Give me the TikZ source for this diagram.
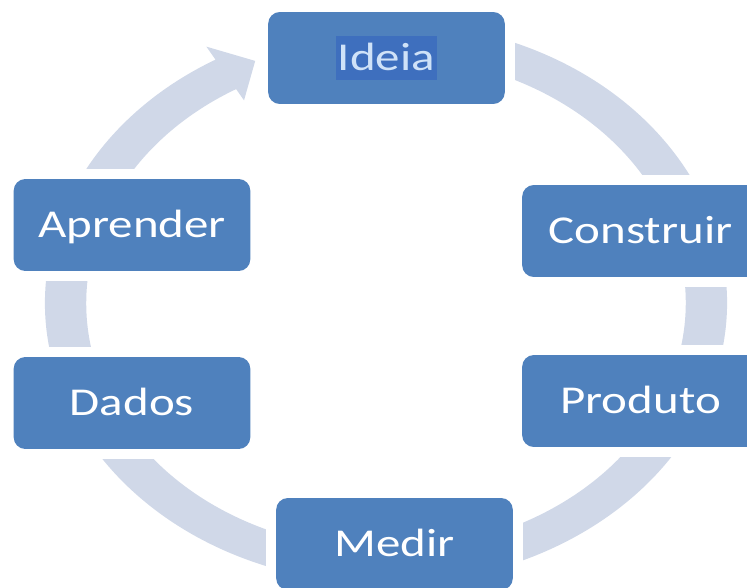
\documentclass[tikz,border=0pt]{standalone}
\usepackage{fontspec}
\setmainfont[FakeStretch=1.24]{Carlito}
\usepackage{tikz}
\tikzset{>=latex}
\usetikzlibrary{positioning}
\definecolor{boxblue}{HTML}{4F81BD}
\definecolor{ringgray}{HTML}{D0D8E8}
\definecolor{selblue}{HTML}{3E6FBE}
\definecolor{seltext}{HTML}{CFE2F8}
\tikzset{
  x=0.03cm, y=-0.03cm,
  stagefont/.style={font=\fontsize{33.7}{40}\selectfont, text height=21.6pt, text depth=0pt},
  stagebox/.style={rectangle, rounded corners=10pt, fill=boxblue, text=white,
    minimum width=202pt, minimum height=78.5pt, stagefont,
    preaction={draw=white, line width=17pt}},
  selectedtext/.style={rectangle, fill=selblue, text=seltext, stagefont,
    inner xsep=2pt, inner ysep=0pt, minimum height=37.6pt}
}

\begin{document}
\begin{tikzpicture}
    \clip (0,0) rectangle (747,588);
    % the cycle arrow behind the stages
    \begin{scope}[shift={(386,303)}, xscale=1.2135]
        \fill[ringgray] (-75:281) arc[start angle=-75, end angle=240, radius=281]
            -- (240:296) -- (246:265) -- (240:234) -- (240:247)
            arc[start angle=240, end angle=-75, radius=247] -- cycle;
    \end{scope}
    % stages
    \node[stagebox] (ideia) at (386.5,58) {};
    \node[selectedtext] (ideialabel) at (ideia.center) {Ideia};
    \node[stagebox] (construir) at (640.5,231) {Construir};
    \node[stagebox] (produto) at (640.5,401) {Produto};
    \node[stagebox] (medir) at (394.5,544) {Medir};
    \node[stagebox] (dados) at (132,403) {Dados};
    \node[stagebox] (aprender) at (132,225) {Aprender};
\end{tikzpicture}
\end{document}
